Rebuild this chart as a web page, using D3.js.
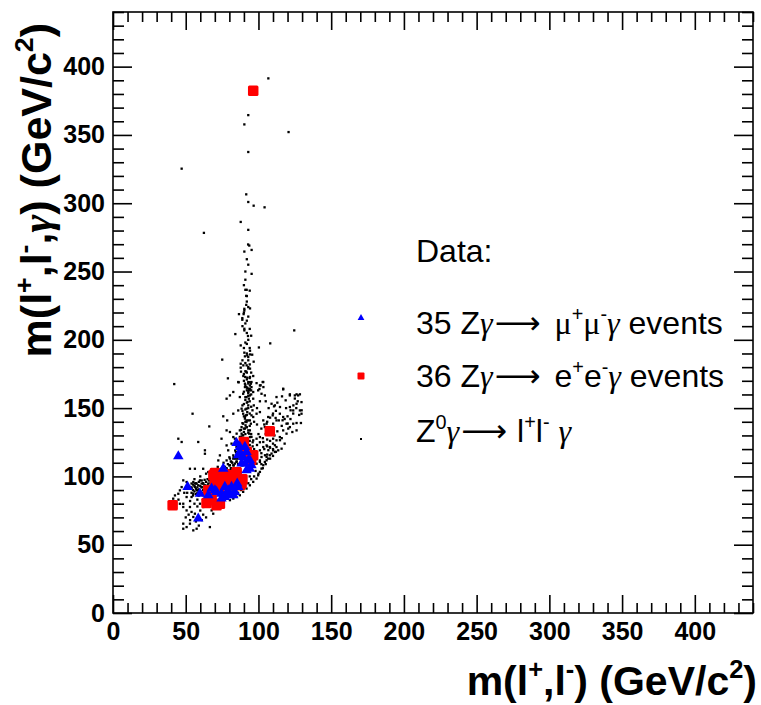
<!DOCTYPE html>
<html><head><meta charset="utf-8">
<script src="https://cdn.jsdelivr.net/npm/d3@7"></script>
<style>body{margin:0;background:#fff;} svg{display:block;}</style>
</head><body>
<svg id="c" width="761" height="705"></svg>
<script>
// ---------------- data ----------------
const xMajorTicks = [0, 50, 100, 150, 200, 250, 300, 350, 400];
const yMajorTicks = [0, 50, 100, 150, 200, 250, 300, 350, 400];
const axisDomain = [0, 440];

// 35 Z gamma -> mu+ mu- gamma events (m(ll), m(llg))
const muEvents = [
  [44.9,114.7],[51.3,92.3],[58.6,69.2],[84.9,124.5],[87.2,117.9],[86.1,115.5],[91.8,117.9],
  [93.0,111.8],[90.7,109.4],[94.1,105.7],[91.8,104.5],[88.4,109.4],[75.8,105.7],[67.8,91.1],
  [71.2,88.7],[74.6,87.4],[76.9,92.3],[79.2,89.9],[81.5,92.3],[83.8,88.7],[80.4,86.2],
  [76.9,85.0],[65.5,86.2],[59.8,87.4],[86.1,92.3],[94.1,111.8],[89.5,114.2],[95.2,108.2],
  [82.7,86.2],[74.6,83.8],[70.1,89.9],[78.1,88.0],[87.2,121.6],[90.7,121.6],[85.4,94.8]
];

// 36 Z gamma -> e+ e- gamma events
const eeEvents = [
  [96.4,382.3],[41.0,78.9],[107.8,133.0],[90.0,125.2],[96.4,115.5],[70.1,102.5],[71.2,98.4],
  [70.1,94.8],[76.9,98.4],[80.4,97.2],[83.8,99.6],[86.1,97.2],[87.2,93.5],[68.9,89.9],
  [64.3,80.6],[71.2,78.9],[65.5,89.9],[78.1,96.0],[82.7,96.0],[75.8,99.6],[72.3,102.1],
  [84.9,101.0],[79.2,99.6],[74.6,96.0],[69.0,100.8],[66.6,82.6],[73.5,80.0],[88.4,95.0],
  [81.5,100.8],[77.0,101.5],[92.0,118.0],[95.0,112.0],[67.8,85.0],[73.0,92.0],[85.0,103.0],
  [89.0,98.0]
];

// Z0 gamma -> l+ l- gamma simulation
const mcEvents = [
  [106.8,391.4],[93.0,364.5],[90.3,357.7],[120.7,352.1],[93.0,337.5],[47.2,325.3],[91.6,306.5],
  [93.0,300.9],[96.7,298.2],[104.2,297.0],[87.8,286.3],[93.0,280.5],
  [62.5,278.3],[93.7,269.0],[92.9,269.8],[90.3,264.6],[95.3,265.8],[95.3,248.3],[91.0,236.6],
  [91.9,236.6],[91.6,232.2],[91.6,225.6],[90.3,222.7],[90.3,221.5],[94.2,223.0],[86.6,218.8],
  [89.8,218.8],[88.9,215.9],[88.9,214.7],[124.6,206.9],[90.3,208.1],[90.3,206.9],[84.1,204.2],
  [92.8,202.8],[87.8,195.9],[108.1,197.4],[100.3,194.4],[94.2,192.0],[90.3,190.6],[90.7,187.9],
  [92.3,188.6],[94.2,189.3],[95.7,189.1],[93.0,187.4],[75.1,185.5],[96.7,184.0],[87.8,182.5],
  [89.6,181.3],[87.8,179.6],[91.9,181.3],[93.0,180.0],[94.2,178.9],[91.6,176.7],[88.0,176.7],
  [89.6,173.5],[90.9,172.8],[92.3,172.3],[94.2,172.8],[96.4,173.5],[79.0,171.8],[86.4,168.9],
  [90.7,167.9],[93.0,169.1],[94.8,167.9],[102.9,169.1],[101.5,166.7],[42.1,167.6],[117.0,163.7],
  [90.7,165.4],[92.3,164.6],[94.2,163.5],[100.7,164.0],[103.4,165.4],
  [86.1,169.1],[91.8,165.4],[94.1,166.6],[95.2,169.1],[98.7,168.3],[101.0,166.6],[103.3,169.1],
  [93.6,163.0],[96.4,161.8],[99.8,163.0],[102.1,160.5],[104.4,159.3],[89.5,160.5],[91.8,158.1],
  [87.2,158.1],[82.7,161.8],[80.4,159.3],[78.1,156.9],[112.4,158.1],[117.0,164.2],[121.6,159.3],
  [125.0,159.3],[127.3,159.3],[129.6,154.4],[126.2,153.2],[109.0,153.2],[111.3,152.0],[121.6,150.8],
  [123.9,148.3],[128.5,148.3],[129.6,145.9],
  [54.7,145.9],[66.2,136.6],[78.5,141.0],[75.8,144.0],[82.7,145.9],[86.1,148.3],[88.4,149.6],
  [89.5,145.9],[90.7,143.5],[91.8,141.0],[94.1,141.0],[96.4,143.5],[98.7,145.9],[101.0,147.1],
  [103.3,141.0],[106.7,143.5],[105.6,138.6],[104.4,136.1],[110.1,138.6],[112.4,141.0],[114.7,145.9],
  [117.0,143.5],[119.3,138.6],[121.6,136.1],[123.9,138.6],[126.2,133.7],[117.0,133.7],[119.3,131.3],
  [114.7,128.8],[112.4,126.4],[110.1,127.6],[89.5,138.6],[88.4,136.1],[91.8,136.1],[93.0,133.7],
  [87.2,133.7],[85.0,131.3],[82.7,128.8],[80.4,132.5],[78.1,133.7],
  [44.9,127.6],[47.2,125.2],[58.6,125.2],[74.6,127.6],[78.1,122.7],[79.2,119.1],[81.5,124.0],
  [83.8,127.6],[94.1,128.8],[96.4,126.4],[98.7,127.6],[101.0,128.8],[103.3,125.2],[105.6,122.7],
  [107.8,121.5],[110.1,119.1],[112.4,121.5],[115.9,120.3],[103.3,121.5],[101.0,119.1],[98.7,116.6],
  [102.1,114.2],[105.6,114.2],[101.0,111.7],[98.7,109.3],[63.2,119.1],[63.2,116.6],[73.5,115.4],
  [72.4,111.7],[78.1,111.7],[80.4,113.0],[82.7,115.4],
  [52.9,105.6],[56.3,105.6],[62.0,105.6],[65.5,103.2],[70.1,103.2],[74.6,105.6],[74.6,100.8],
  [47.2,92.2],[46.0,89.8],[44.9,87.3],[48.3,97.1],[50.6,95.9],[55.2,95.9],[57.5,94.7],[59.8,97.1],
  [62.0,94.7],[60.9,92.2],[58.6,89.8],[63.2,89.8],[65.5,91.0],[67.8,93.4],[68.9,95.9],[55.2,87.3],
  [54.0,84.9],[50.6,84.9],[42.6,86.1],[41.4,83.7],
  [48.3,80.0],[48.3,77.6],[50.6,75.1],[52.9,77.6],[54.0,74.0],[56.3,72.7],[55.2,70.3],[59.8,80.0],
  [62.0,77.6],[67.8,75.1],[68.9,72.7],[48.3,65.4],[50.6,62.9],[55.2,60.5],[57.5,61.7],[48.3,61.7],
  [52.9,65.4],[66.6,62.9],
  [52.9,92.3],[54.0,91.1],[56.3,92.3],[57.5,89.9],[59.8,88.7],[60.9,87.4],[62.0,86.2],[58.6,86.2],
  [63.2,85.0],[64.3,87.4],[65.5,86.2],[66.6,88.7],[67.8,87.4],[68.9,89.9],[70.1,92.3],[71.2,93.5],
  [72.3,96.0],[73.5,97.2],[74.6,94.8],[75.8,98.4],[76.9,99.6],[78.1,102.1],[79.2,103.3],[80.4,104.5],
  [81.5,105.7],[82.7,108.2],[83.8,109.4],[84.9,110.6],[85.4,113.0],[86.1,115.5],[86.8,117.9],
  [87.2,120.3],[87.7,122.8],[88.4,125.2],[89.1,127.7],[89.5,130.1],[90.0,132.5],[90.7,135.0],
  [91.1,137.4],[91.8,139.8],[90.7,142.3],[91.4,144.7],[92.3,147.1],[91.8,149.6],[93.0,152.0],
  [92.5,154.5],[93.4,156.9],[94.1,159.3],[93.0,161.8],[93.6,164.2],[95.2,165.4],[96.4,156.9],
  [96.8,152.0],[95.9,148.4],[95.2,144.7],[94.8,138.6],[94.1,133.7],[93.6,131.3],[95.2,128.9],
  [88.4,131.3],[87.2,128.9],[86.1,124.0],[84.9,121.6],[84.5,117.9],[82.7,113.0],[81.5,110.6],
  [80.4,108.2],[78.1,105.7],[76.9,104.5],[74.6,102.1],[72.3,99.6],[70.1,98.4],[67.8,97.2],
  [65.5,94.8],[63.2,93.5],[60.9,94.8],[58.6,93.5],[56.3,94.8],[54.0,94.8],
  [80.4,82.6],[82.7,83.8],[84.9,85.0],[87.2,86.2],[89.5,88.7],[91.8,91.1],[94.1,93.5],[96.4,96.0],
  [98.7,98.4],[99.8,100.8],[101.0,103.3],[102.1,105.7],[103.3,108.2],[104.4,110.6],[105.6,111.8],
  [106.7,113.0],[107.8,115.5],[109.0,116.7],[111.3,117.9],[113.6,119.1],
  [116.6,141.1],[120.1,138.7],[120.5,135.0],[123.3,132.5],[126.2,139.1],[129.2,139.1],[123.9,146.0],
  [122.1,148.4],[129.7,148.4],[118.7,155.7],[114.8,150.8],[110.7,151.3],[109.8,144.7],[111.8,142.8],
  [121.6,160.1],[126.2,160.1],[128.5,160.1],[116.2,158.6],[114.8,126.5],[111.3,122.8],[106.8,119.2],
  [104.5,115.5],[101.0,110.6],
  [55,86],[55,90],[55,94],[57,87],[57,91],[57,95],[59,86],[59,90.5],[59,96],[61,88],[61,92],[61,97],
  [63,88.5],[63,93],[63,97.5],[65,89],[65,93.5],[65,98],[67,90],[67,95],[67,99],[69,91],[69,96],
  [69,101],[71,92],[71,97],[71,102],[73,93],[73,98.5],[73,103.5],[75,94],[75,100],[75,106],[77,96],
  [77,102],[77,107],[79,97],[79,104],[79,109],[81,99],[81,106],[81,111],[83,101],[83,108],[83,114],
  [85,104],[85,111],[85,117],[87,106],[87,113],[87,120],[89,108],[89,116],[89,123],
  [88,125],[90,126],[92,127],[94,126],[89,130],[91,131],[93,132],[95,131],[88,134],[90,135],[92,136],
  [94,137],[89,139],[91,140],[93,141],[90,144],[92,145],[94,146],[89,148],[91,149],[93,150],[95,151],
  [90,153],[92,154],[94,155],[91,158],[93,159],[95,160],[90,162],[92,163],[94,164],[91,167],[93,168],
  [92,171],[94,172],[90,175],[92,176],[93,179],[91,183],[93,185],[92,190],[94,194],[91,198],[93,200],
  [92,205],[91,212],[93,217],[92,228],[91,244],[93,255],[92,259],
  [97,120],[99,123],[101,125],[103,128],[105,131],[107,134],[100,131],[102,135],[104,138],[106,140],
  [108,143],[110,146],[112,148],[114,141],[116,137],[118,142],[120,144],[122,142],[124,152],[126,150],
  [128,145],[127,155],[125,157],[119,150],[113,154],[107,150],[105,155],[99,150],[101,155],[97,140],
  [99,138],[108,126],[111,130],[113,133],[116,128],[118,124],[110,124],[106,127],[102,117],[104,120],
  [106,122],[108,121],
  [78,84],[84,86],[86,88],[88,90],[90,92],[93,95],[95,98],[97,100],[100,102],[103,106],[105,109],
  [108,113],[110,115],[112,118],
  [50,70],[52,72],[53,68],[46,80],[45,83],[49,88],[51,88],[53,82],[56,80],[58,78],[60,75],[62,72],
  [64,70],[57,67],[59,64],[61,68],
  [54,88],[54,92],[56,89],[56,93],[58,88],[58,92],[60,89],[60,93],[62,90],[62,95],[64,91],[64,96],
  [66,92],[66,97],[68,93],[68,98],[70,94],[70,100],[72,95],[72,101],[74,97],[74,103],[76,98],[76,104],
  [78,100],[78,106],[80,102],[80,108],[82,104],[82,110],[84,106],[84,113],[86,109],[86,115],[88,112],
  [88,119],[90,115],[90,121],[92,118],[92,124],[94,120],[94,123],[96,122],[96,125],
  [58,83],[62,83],[66,84],[70,85],[74,86],[78,87],[82,89],[86,92],[90,96],[94,100],[98,104],[102,109],
  [106,116],[110,120],
  [56,98],[60,100],[64,102],[68,104],[72,107],[76,110],[80,114],[84,119],[86,124],[88,129],
  [89,152],[91,156],[93,161],[95,163],[90,170],[94,169],[91,177],[95,176],[89,185],[94,182],[90,194],
  [92,197],[95,203],[89,210],[94,208],[92,214],[90,220],[93,224],[92,232],[90,240],[94,236],[91,250]
];

// ---------------- layout ----------------
const svg = d3.select("#c");
const x = d3.scaleLinear().domain(axisDomain).range([113, 753]);
const y = d3.scaleLinear().domain(axisDomain).range([613, 12]);
const minorStep = 10;
const minorTicks = d3.range(axisDomain[0], axisDomain[1] + 0.001, minorStep)
  .filter(v => !xMajorTicks.includes(v));

const tickFont = "'Liberation Sans', Arial, Helvetica, sans-serif";

function styleAxis(g) {
  g.select(".domain").remove();
  g.selectAll(".tick line").attr("stroke", "#000").attr("stroke-width", 1.6);
  g.selectAll("text").attr("font-family", tickFont).attr("font-weight", "bold")
    .attr("font-size", 25).attr("fill", "#000");
}

// bottom
svg.append("g").attr("transform", "translate(0,613)")
  .call(d3.axisBottom(x).tickValues(xMajorTicks).tickSize(-18).tickPadding(9).tickFormat(d3.format("d")))
  .call(styleAxis);
svg.append("g").attr("transform", "translate(0,613)")
  .call(d3.axisBottom(x).tickValues(minorTicks).tickSize(-10).tickFormat(""))
  .call(styleAxis);
// top
svg.append("g").attr("transform", "translate(0,12)")
  .call(d3.axisTop(x).tickValues(xMajorTicks).tickSize(-18).tickFormat(""))
  .call(styleAxis);
svg.append("g").attr("transform", "translate(0,12)")
  .call(d3.axisTop(x).tickValues(minorTicks).tickSize(-10).tickFormat(""))
  .call(styleAxis);
// left
svg.append("g").attr("transform", "translate(113,0)")
  .call(d3.axisLeft(y).tickValues(yMajorTicks).tickSize(-19).tickPadding(8).tickFormat(d3.format("d")))
  .call(styleAxis);
svg.append("g").attr("transform", "translate(113,0)")
  .call(d3.axisLeft(y).tickValues(minorTicks).tickSize(-11).tickFormat(""))
  .call(styleAxis);
// right
svg.append("g").attr("transform", "translate(753,0)")
  .call(d3.axisRight(y).tickValues(yMajorTicks).tickSize(-19).tickFormat(""))
  .call(styleAxis);
svg.append("g").attr("transform", "translate(753,0)")
  .call(d3.axisRight(y).tickValues(minorTicks).tickSize(-11).tickFormat(""))
  .call(styleAxis);

// frame
svg.append("rect").attr("x", 113).attr("y", 12).attr("width", 640).attr("height", 601)
  .attr("fill", "none").attr("stroke", "#000").attr("stroke-width", 1.6);

// ---------------- marks ----------------
const dot = 2.3;
svg.append("g").selectAll("rect").data(mcEvents).join("rect")
  .attr("x", d => x(d[0]) - dot / 2).attr("y", d => y(d[1]) - dot / 2)
  .attr("width", dot).attr("height", dot).attr("fill", "#000");

const sq = 10.5;
svg.append("g").selectAll("rect").data(eeEvents).join("rect")
  .attr("x", d => x(d[0]) - sq / 2).attr("y", d => y(d[1]) - sq / 2)
  .attr("width", sq).attr("height", sq).attr("rx", 1.5).attr("fill", "#ff0000");

const tri = d3.symbol().type(d3.symbolTriangle).size(48);
svg.append("g").selectAll("path").data(muEvents).join("path")
  .attr("d", tri).attr("transform", d => `translate(${x(d[0])},${y(d[1])})`)
  .attr("fill", "#0000ff");

// ---------------- text helpers ----------------
function rich(sel, parts, size) {
  let shift = 0;
  parts.forEach(([t, mode, extra]) => {
    const ts = sel.append("tspan").text(t);
    if (mode === "sup") {
      ts.attr("font-size", size * 0.62).attr("dy", -size * 0.42 - shift);
      shift = -size * 0.42;
    } else {
      if (shift !== 0) { ts.attr("dy", -shift); shift = 0; }
      if (mode === "sym") ts.attr("font-family", "'Liberation Serif', 'Times New Roman', serif").attr("font-style", "italic");
      if (mode === "greek") ts.attr("font-family", "'Liberation Serif', 'Times New Roman', serif");
      if (mode === "arrow") ts.attr("font-family", "'DejaVu Sans', sans-serif").attr("font-weight", "normal");
    }
    if (extra) ts.attr("dx", extra);
  });
}

// axis titles
const titleSize = 41;
const xt = svg.append("text").attr("x", 757).attr("y", 695).attr("text-anchor", "end")
  .attr("font-family", tickFont).attr("font-weight", "bold").attr("font-size", titleSize);
rich(xt, [["m(l",""],["+","sup"],[",l",""],["-","sup"],[") (GeV/c",""],["2","sup"],[")",""]], titleSize);

const yTitleSize = 43;
const yt = svg.append("text").attr("transform", "translate(51,23) rotate(-90)").attr("text-anchor", "end")
  .attr("font-family", tickFont).attr("font-weight", "bold").attr("font-size", yTitleSize);
rich(yt, [["m(l",""],["+","sup"],[",l",""],["-","sup"],[",",""],["γ","sym"],[") (GeV/c",""],["2","sup"],[")",""]], yTitleSize);

// ---------------- legend ----------------
const legSize = 32;
const legX = 416;
const lg = svg.append("g").attr("font-family", tickFont).attr("font-size", legSize).attr("fill", "#000");
lg.append("text").attr("x", legX).attr("y", 262).text("Data:");
rich(lg.append("text").attr("x", legX).attr("y", 334),
  [["35 Z",""],["γ","sym"],["⟶","arrow",2],["μ","greek",14],["+","sup"],["μ","greek"],["-","sup"],["γ","sym"],[" events",""]], legSize);
rich(lg.append("text").attr("x", legX).attr("y", 387),
  [["36 Z",""],["γ","sym"],["⟶","arrow",2],["e","",14],["+","sup"],["e",""],["-","sup"],["γ","sym"],[" events",""]], legSize);
rich(lg.append("text").attr("x", legX).attr("y", 442),
  [["Z",""],["0","sup"],["γ","sym"],["⟶","arrow",2],["l","",10],["+","sup"],["l",""],["-","sup"],[" ",""],["γ","sym"]], legSize);

const legMarkX = 361;
lg.append("path").attr("d", d3.symbol().type(d3.symbolTriangle).size(20))
  .attr("transform", `translate(${legMarkX},318)`).attr("fill", "#0000ff");
lg.append("rect").attr("x", legMarkX - 3.5).attr("y", 372.5).attr("width", 7).attr("height", 7)
  .attr("rx", 1).attr("fill", "#ff0000");
lg.append("rect").attr("x", legMarkX - 1).attr("y", 438).attr("width", 2).attr("height", 2).attr("fill", "#000");
</script>
</body></html>
